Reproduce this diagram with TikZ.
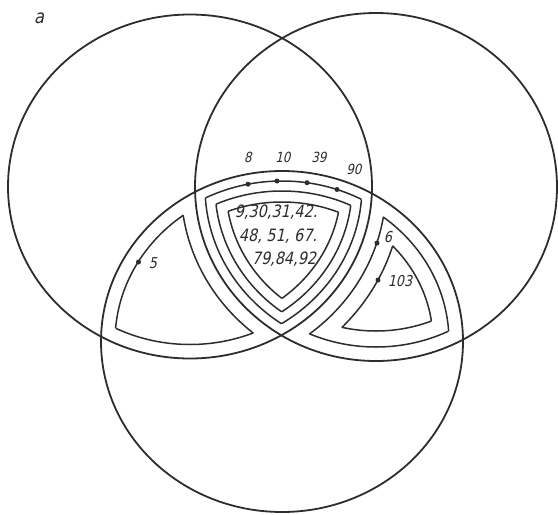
\documentclass[tikz,border=0pt]{standalone}
\usepackage{fontspec}
\newfontfamily\gost[FakeSlant=0.22,FakeStretch=0.85]{DejaVu Sans}
\definecolor{ink}{RGB}{45,45,45}
\newcommand\ellA[1]{(190,186.5) ellipse [x radius={182+(#1)}, y radius={172+(#1)}]}
\newcommand\ellB[1]{(376,187) ellipse [x radius={181+(#1)}, y radius={174+(#1)}]}
\newcommand\ellC[1]{(282,341.5) ellipse [x radius={181+(#1)}, y radius={170.5+(#1)}]}
\newcommand\inE[2]{\clip #1{#2};}
\newcommand\outE[2]{\clip (-60,-60) rectangle (620,580) #1{#2};}
% central region A and B and C, offset #1
\newcommand\regC[2]{%
 \begin{scope}[even odd rule]\inE\ellB{-#1}\inE\ellC{-#1}\draw[#2] \ellA{-#1};\end{scope}
 \begin{scope}[even odd rule]\inE\ellA{-#1}\inE\ellC{-#1}\draw[#2] \ellB{-#1};\end{scope}
 \begin{scope}[even odd rule]\inE\ellA{-#1}\inE\ellB{-#1}\draw[#2] \ellC{-#1};\end{scope}}
% left region A and C not B
\newcommand\regL[2]{%
 \begin{scope}[even odd rule]\inE\ellC{-#1}\outE\ellB{#1}\draw[#2] \ellA{-#1};\end{scope}
 \begin{scope}[even odd rule]\inE\ellA{-#1}\outE\ellB{#1}\draw[#2] \ellC{-#1};\end{scope}
 \begin{scope}[even odd rule]\inE\ellA{-#1}\inE\ellC{-#1}\draw[#2] \ellB{#1};\end{scope}}
% right region B and C not A
\newcommand\regR[2]{%
 \begin{scope}[even odd rule]\inE\ellC{-#1}\outE\ellA{#1}\draw[#2] \ellB{-#1};\end{scope}
 \begin{scope}[even odd rule]\inE\ellB{-#1}\outE\ellA{#1}\draw[#2] \ellC{-#1};\end{scope}
 \begin{scope}[even odd rule]\inE\ellB{-#1}\inE\ellC{-#1}\draw[#2] \ellA{#1};\end{scope}}
\begin{document}
\begin{tikzpicture}[x=1pt,y=-1pt,
  circ/.style={line width=1.8pt, draw=ink},
  cont/.style={line width=1.5pt, draw=ink},
  elem/.style={circle, fill=ink, inner sep=0pt, minimum size=5pt},
  lab/.style={font=\gost\fontsize{14}{14}\selectfont, text=ink, inner sep=0pt},
  biglab/.style={font=\gost\fontsize{17}{17}\selectfont, text=ink, inner sep=0pt}]
\useasboundingbox (0,0) rectangle (558,515);
\fill[white] (0,0) rectangle (558,515);
% the three sets
\draw[circ] \ellA{0};
\draw[circ] \ellB{0};
\draw[circ] \ellC{0};
% nested contours
\regL{14}{cont}
\regC{10}{cont}
\regC{20}{cont}
\regC{31}{cont}
\regR{14}{cont}
\regR{30}{cont}
% elements on boundaries
\node[elem] (e8)  at (248,184.2) {};
\node[elem] (e10) at (277,181) {};
\node[elem] (e39) at (307,182.7) {};
\node[elem] (e90) at (337,189.5) {};
\node[elem] (e5)  at (138.5,262) {};
\node[elem] (e6)  at (377,243) {};
\node[elem] (e103) at (378,280) {};
% labels
\node[lab] (l8)  at (248,157) {8};
\node[lab] (l10) at (283,157) {10};
\node[lab] (l39) at (319,157) {39};
\node[lab] (l90) at (354,169) {90};
\node[lab, font=\gost\fontsize{15}{15}\selectfont] (l5) at (153,263) {5};
\node[lab, font=\gost\fontsize{15}{15}\selectfont] (l6) at (388,237) {6};
\node[lab, font=\gost\fontsize{15}{15}\selectfont] (l103) at (400,281) {103};
\node[biglab] (t1) at (276,212) {9,30,31,42.};
\node[biglab] (t2) at (278,236) {48, 51, 67.};
\node[biglab] (t3) at (284,259) {79,84,92};
\node[lab, font=\gost\fontsize{19}{19}\selectfont] (ta) at (39,18) {a};
\end{tikzpicture}
\end{document}
